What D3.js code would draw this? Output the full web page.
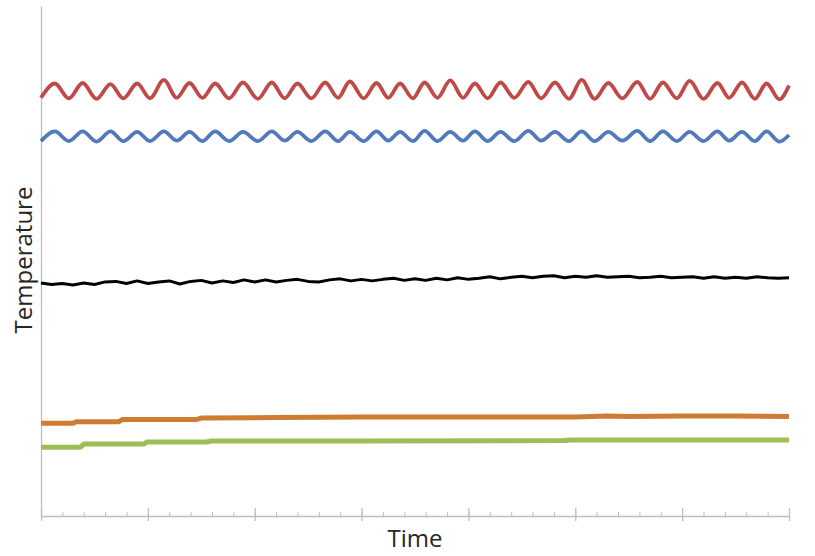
<!DOCTYPE html>
<html>
<head>
<meta charset="utf-8">
<script src="https://cdn.jsdelivr.net/npm/d3@7/dist/d3.min.js"></script>
<style>
  html, body { margin: 0; padding: 0; background: #ffffff; }
  svg { display: block; }
</style>
</head>
<body>
<svg id="chart" width="815" height="556"></svg>
<script>
// ---------------- DATA ----------------
const xDomain = [0, 70];
const yDomain = [0, 100];
const majorTicks = [0, 10, 20, 30, 40, 50, 60, 70];
const minorTicks = [0,2,4,6,8,10,12,14,16,18,20,22,24,26,28,30,32,34,36,38,40,42,44,46,48,50,52,54,56,58,60,62,64,66,68,70];
const xLabel = "Time";
const yLabel = "Temperature";

// shared time samples for the two oscillating series (start, peak/trough pairs, end)
const oscTime = [0,
  1.3, 2.6, 3.9, 5.2, 6.5, 7.7, 9.0, 10.2, 11.5, 12.7, 13.9, 15.1, 16.3, 17.6,
  18.9, 20.3, 21.6, 22.8, 24.0, 25.3, 26.6, 27.8, 28.9, 30.2, 31.4, 32.5, 33.6, 34.8,
  35.9, 37.1, 38.3, 39.5, 40.6, 41.8, 43.0, 44.3, 45.6, 46.8, 48.1, 49.4, 50.6, 51.8,
  53.1, 54.4, 55.8, 57.0, 58.2, 59.5, 60.7, 62.0, 63.3, 64.4, 65.6, 66.8, 67.9, 69.1,
  70.0];

const redTemp = [82.0,
  84.8, 81.9, 84.9, 81.8, 84.7, 81.9, 84.8, 81.9, 85.5, 82.0, 84.9, 82.0, 84.8, 81.9,
  85.0, 81.8, 85.0, 81.9, 84.8, 81.9, 85.0, 82.0, 85.2, 81.9, 84.9, 82.0, 84.8, 81.9,
  85.0, 82.0, 85.4, 82.0, 84.8, 81.9, 85.0, 82.0, 85.1, 81.9, 85.0, 81.8, 85.5, 81.8,
  84.9, 81.9, 85.1, 81.8, 85.0, 81.9, 85.3, 81.8, 84.9, 82.0, 85.0, 81.8, 84.8, 81.7,
  84.4];

const blueTemp = [73.5,
  75.4, 73.5, 75.4, 73.4, 75.4, 73.5, 75.3, 73.5, 75.4, 73.6, 75.3, 73.5, 75.4, 73.5,
  75.3, 73.5, 75.4, 73.6, 75.3, 73.5, 75.4, 73.5, 75.3, 73.5, 75.4, 73.6, 75.3, 73.5,
  75.5, 73.5, 75.3, 73.6, 75.4, 73.5, 75.3, 73.5, 75.5, 73.6, 75.3, 73.5, 75.4, 73.5,
  75.3, 73.6, 75.5, 73.5, 75.4, 73.5, 75.3, 73.5, 75.4, 73.6, 75.3, 73.5, 75.4, 73.4,
  74.7];

const blackTime = [0,1,2,3,4,5,6,7,8,9,10,11,12,13,14,15,16,17,18,19,20,21,22,23,24,25,26,27,28,29,30,
  31,32,33,34,35,36,37,38,39,40,41,42,43,44,45,46,47,48,49,50,51,52,53,54,55,56,57,58,59,60,
  61,62,63,64,65,66,67,68,69,70];
const blackTemp = [45.7,
  45.4, 45.6, 45.3, 45.7, 45.4, 45.9, 46.0, 45.6, 46.1, 45.6,
  45.9, 46.1, 45.5, 46.0, 46.2, 45.7, 46.1, 45.8, 46.3, 45.9,
  46.3, 45.9, 46.2, 46.4, 46.0, 45.9, 46.3, 46.5, 46.1, 46.4,
  46.1, 46.4, 46.6, 46.2, 46.5, 46.2, 46.6, 46.3, 46.7, 46.4,
  46.6, 46.9, 46.5, 46.8, 47.0, 46.7, 47.0, 47.1, 46.7, 47.0,
  46.8, 47.1, 46.8, 46.9, 47.0, 46.7, 46.8, 47.0, 46.7, 46.8,
  46.9, 46.6, 46.9, 46.6, 46.8, 46.6, 46.9, 46.7, 46.6, 46.7];

const orangeTime = [0, 3.0, 3.3, 7.3, 7.6, 14.5, 15.0, 22.0, 30.0, 40.0, 50.0, 53.0, 55.0, 60.0, 65.0, 70.0];
const orangeTemp = [18.2, 18.2, 18.5, 18.5, 18.9, 18.9, 19.2, 19.3, 19.4, 19.4, 19.4, 19.6, 19.5, 19.6, 19.6, 19.5];

const greenTime = [0, 3.7, 4.0, 9.6, 9.9, 15.5, 15.9, 30.0, 49.0, 49.5, 70.0];
const greenTemp = [13.5, 13.5, 14.1, 14.1, 14.5, 14.5, 14.7, 14.7, 14.8, 14.9, 14.9];

const seriesNames = ["red", "blue", "black", "orange", "green"];
const seriesColors = ["#BE4B48", "#5179BE", "#000000", "#CD7C32", "#9BBE57"];
const seriesWidths = [3.8, 3.8, 3.0, 5.0, 5.0];

// ---------------- CHART ----------------
const svg = d3.select("#chart");
const plot = { left: 41, right: 789, top: 6, bottom: 516 };

const x = d3.scaleLinear().domain(xDomain).range([plot.left, plot.right]);
const y = d3.scaleLinear().domain(yDomain).range([plot.bottom, plot.top]);

const axisColor = "#BFBFBF";

// Y axis: plain line, no ticks
const yAxisG = svg.append("g")
  .attr("transform", `translate(${plot.left},0)`)
  .call(d3.axisLeft(y).tickValues([]).tickSizeOuter(0));
yAxisG.select(".domain").attr("stroke", axisColor).attr("stroke-width", 1.3);

// X axis: domain + major ticks crossing, minor ticks inside
const xMajorDown = svg.append("g")
  .attr("transform", `translate(0,${plot.bottom})`)
  .call(d3.axisBottom(x).tickValues(majorTicks).tickSize(5).tickSizeOuter(0).tickFormat(""));
xMajorDown.select(".domain").attr("stroke", axisColor).attr("stroke-width", 1.3);
xMajorDown.selectAll(".tick line").attr("stroke", axisColor).attr("stroke-width", 1.3);

const xMajorUp = svg.append("g")
  .attr("transform", `translate(0,${plot.bottom})`)
  .call(d3.axisTop(x).tickValues(majorTicks).tickSize(8).tickSizeOuter(0).tickFormat(""));
xMajorUp.select(".domain").remove();
xMajorUp.selectAll(".tick line").attr("stroke", axisColor).attr("stroke-width", 1.3);

const xMinorUp = svg.append("g")
  .attr("transform", `translate(0,${plot.bottom})`)
  .call(d3.axisTop(x).tickValues(minorTicks).tickSize(4).tickSizeOuter(0).tickFormat(""));
xMinorUp.select(".domain").remove();
xMinorUp.selectAll(".tick line").attr("stroke", axisColor).attr("stroke-width", 1);

// Lines
const seriesData = [
  oscTime.map((t, i) => [t, redTemp[i]]),
  oscTime.map((t, i) => [t, blueTemp[i]]),
  blackTime.map((t, i) => [t, blackTemp[i]]),
  orangeTime.map((t, i) => [t, orangeTemp[i]]),
  greenTime.map((t, i) => [t, greenTemp[i]])
];
const seriesCurves = [d3.curveMonotoneX, d3.curveMonotoneX, d3.curveLinear, d3.curveLinear, d3.curveLinear];

const drawOrder = [4, 3, 2, 1, 0];
drawOrder.forEach(i => {
  const line = d3.line().x(d => x(d[0])).y(d => y(d[1])).curve(seriesCurves[i]);
  svg.append("path")
    .datum(seriesData[i])
    .attr("class", "series " + seriesNames[i])
    .attr("fill", "none")
    .attr("stroke", seriesColors[i])
    .attr("stroke-width", seriesWidths[i])
    .attr("stroke-linejoin", "round")
    .attr("stroke-linecap", "butt")
    .attr("d", line);
});

// Axis titles
svg.append("text")
  .attr("x", (plot.left + plot.right) / 2 + 0)
  .attr("y", 547)
  .attr("text-anchor", "middle")
  .attr("font-family", "'Open Sans', 'Noto Sans', sans-serif")
  .attr("font-size", 24)
  .attr("fill", "#262626")
  .text(xLabel);

svg.append("text")
  .attr("transform", `translate(32,260) rotate(-90)`)
  .attr("text-anchor", "middle")
  .attr("font-family", "'Open Sans', 'Noto Sans', sans-serif")
  .attr("font-size", 24)
  .attr("fill", "#262626")
  .text(yLabel);
</script>
</body>
</html>
